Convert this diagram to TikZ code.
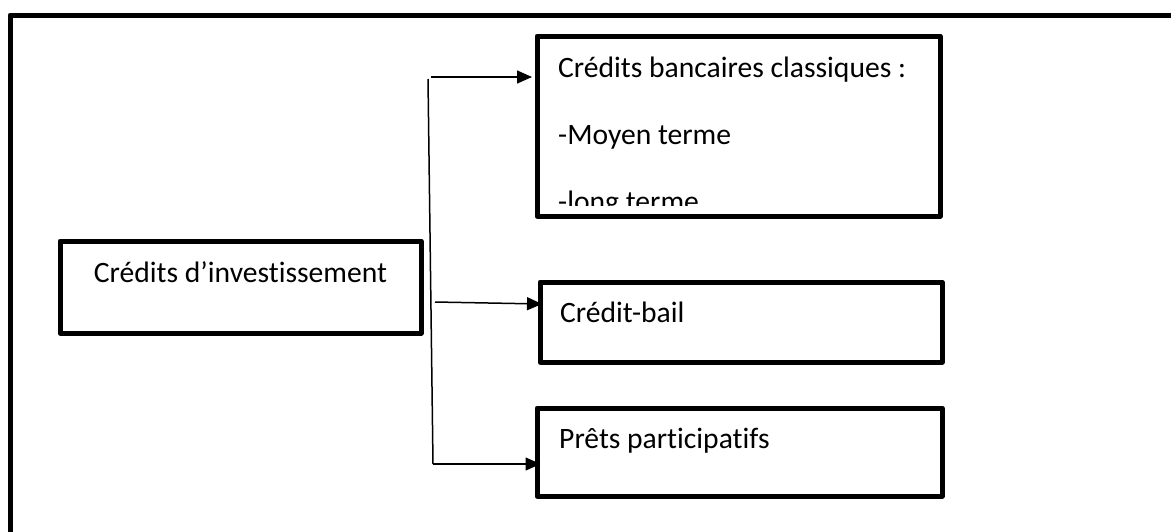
\documentclass[tikz,border=0pt]{standalone}
\usepackage{fontspec}
\setmainfont{Carlito}[Ligatures=NoCommon]
\usetikzlibrary{arrows.meta}
\begin{document}
\begin{tikzpicture}[x=1pt,y=-1pt,
  frame/.style={line width=5pt, line join=round},
  box/.style={draw, rectangle, line width=5pt, line join=round, inner sep=0pt},
  label/.style={inner sep=0pt, font=\fontsize{29.6}{35}\selectfont},
  link/.style={line width=1.5pt},
  arrowlink/.style={link, -{Triangle[length=15pt,width=13pt]}}]
\useasboundingbox (0,0) rectangle (1171,531);

% page frame, running off to the right and bottom
\draw[frame] (10,545) -- (10,15) -- (1185,15);

% boxes
\node[box, minimum width=361pt, minimum height=92pt] (b0) at (240.5,287) {};
\node[box, minimum width=403pt, minimum height=180pt] (b1) at (738.5,126) {};
\node[box, minimum width=402pt, minimum height=80pt] (b2) at (741,322) {};
\node[box, minimum width=405pt, minimum height=88pt] (b3) at (739.5,452) {};

% texts
\node[label, anchor=base] (t0) at (240.5,282) {Crédits d’investissement};
\begin{scope}
  \clip (540,39) rectangle (937,205);
  \node[label, anchor=base west] (t1a) at (558,77) {Crédits bancaires classiques :};
  \node[label, anchor=base west] (t1b) at (558,144) {-Moyen terme};
  \node[label, anchor=base west] (t1c) at (558,211) {-long terme};
\end{scope}
\node[label, anchor=base west] (t2) at (560,322) {Crédit-bail};
\node[label, anchor=base west] (t3) at (559,448) {Prêts participatifs};

% branching connector
\coordinate (top) at (428,79);
\coordinate (bot) at (433,464);
\coordinate (s1) at (431,77);
\coordinate (s2) at (435,302);
\coordinate (e2) at (542,304);
\draw[link] (top) -- (bot);
\draw[arrowlink, shorten >=2.5pt] (s1) -- (s1 -| b1.west);
\draw[arrowlink] (s2) -- (e2);
\draw[arrowlink] (bot) -- ([xshift=6pt]bot -| b3.west);
\end{tikzpicture}
\end{document}
